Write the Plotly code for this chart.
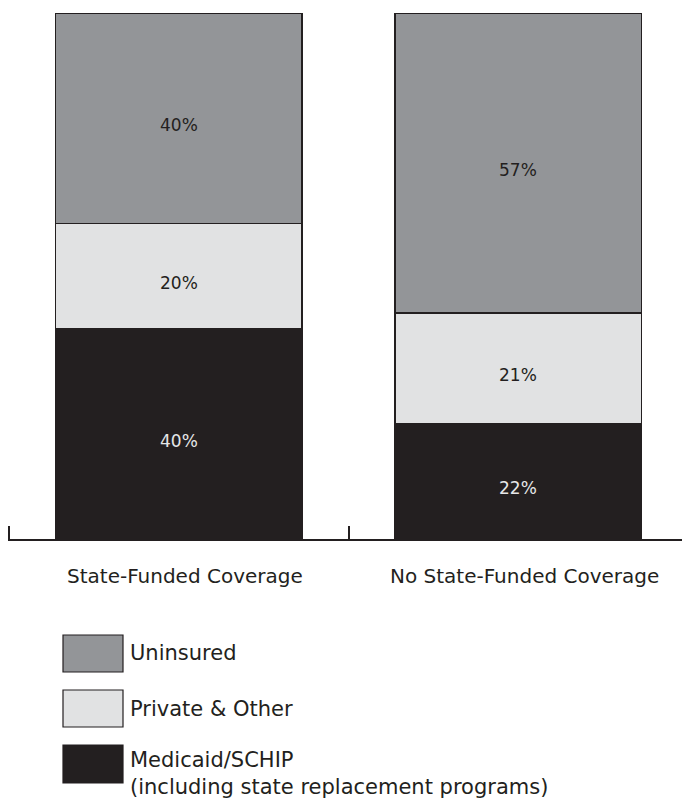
import plotly.graph_objects as go

# Coverage groups and insurance shares (percent)
groups = ["State-Funded Coverage", "No State-Funded Coverage"]
medicaid = [40, 22]
private_other = [20, 21]
uninsured = [40, 57]

series_names = ["Medicaid/SCHIP<br>(including state replacement programs)",
                "Private & Other", "Uninsured"]
series_values = [medicaid, private_other, uninsured]
series_colors = ["#231f20", "#e1e2e3", "#939598"]
label_colors = ["#e6e7e8", "#231f20", "#231f20"]

FONT = "DejaVu Sans"
INK = "#231f20"

fig = go.Figure()
for name, vals, col in zip(series_names, series_values, series_colors):
    fig.add_trace(go.Bar(
        x=groups, y=vals, name=name,
        marker=dict(color=col, line=dict(color=INK, width=1.5)),
        width=0.725, showlegend=False,
    ))

# value labels, a little below the middle of each segment
base = [0] * len(groups)
for vals, tcol in zip(series_values, label_colors):
    for i, (g, v) in enumerate(zip(groups, vals)):
        fig.add_annotation(x=g, xref="x", y=base[i] + v / 2, yref="y", yshift=-7,
                           text=f"{v}%", showarrow=False,
                           font=dict(family=FONT, size=17, color=tcol))
        base[i] += v

# category labels under the baseline
for g in groups:
    fig.add_annotation(x=g, xref="x", y=0, yref="y", yshift=-37, xshift=6,
                       text=g, showarrow=False,
                       font=dict(family=FONT, size=20, color=INK),
                       xanchor="center", yanchor="middle")

# page geometry
W, H = 682, 802
ML, MR, MT, MB = 8, 0, 13, 263
pw, ph = W - ML - MR, H - MT - MB
CAT = 339.5  # pixels per category
x_start = -0.5 - 1.0 / CAT

# tick at the left end of the category axis
fig.add_shape(type="line", xref="x", yref="paper", x0=-0.5, x1=-0.5,
              y0=0, y1=13 / ph, line=dict(color=INK, width=2))

def px(x):
    return (x - ML) / pw

def py(y):
    return 1 - (y - MT) / ph

legend_rows = [
    ("Uninsured", 635, 672, series_colors[2]),
    ("Private & Other", 690, 727, series_colors[1]),
    ("Medicaid/SCHIP<br>(including state replacement programs)", 745, 783, series_colors[0]),
]
for txt, y0, y1, col in legend_rows:
    fig.add_shape(type="rect", xref="paper", yref="paper",
                  x0=px(63), x1=px(123), y0=py(y1), y1=py(y0),
                  fillcolor=col, line=dict(color=INK, width=1.2))
    two = "<br>" in txt
    fig.add_annotation(xref="paper", yref="paper", x=px(128),
                       y=py(y0 + 1) if two else py((y0 + y1) / 2),
                       text=txt, showarrow=False, align="left",
                       xanchor="left", yanchor="top" if two else "middle",
                       font=dict(family=FONT, size=21, color=INK))

fig.update_layout(
    width=W, height=H,
    margin=dict(l=ML, r=MR, t=MT, b=MB),
    barmode="stack", bargap=0.275,
    plot_bgcolor="white", paper_bgcolor="white",
    xaxis=dict(range=[x_start, x_start + pw / CAT], showline=True, linewidth=2, linecolor=INK,
               ticks="inside", ticklen=13, tickwidth=2, tickcolor=INK,
               tickson="boundaries", showticklabels=False, showgrid=False,
               zeroline=False, fixedrange=True),
    yaxis=dict(range=[0, 100], visible=False, fixedrange=True),
)

fig.write_html("out.html")
